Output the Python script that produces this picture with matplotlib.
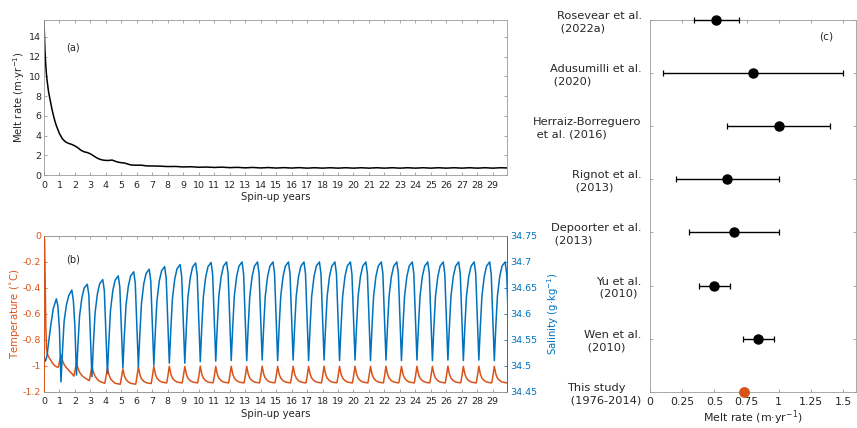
import numpy as np
import matplotlib.pyplot as plt

plt.rcParams['font.family'] = 'DejaVu Sans'
plt.rcParams['axes.unicode_minus'] = False

ORANGE = '#D95319'
BLUE = '#0072BD'
TXT = '#262626'
GRID = '#9a9a9a'

# (a) melt rate over the spin-up
melt_t = [0, 0.03, 0.06, 0.1, 0.15, 0.2, 0.3, 0.4, 0.5, 0.6, 0.7, 0.8, 1.0, 1.2, 1.4,
          1.6, 1.8, 2.0, 2.2, 2.4, 2.6, 2.8, 3.0, 3.2, 3.4, 3.6, 3.8, 4.0, 4.2, 4.4,
          4.6, 4.8, 5.0, 5.2, 5.4, 5.6, 5.8, 6.0, 6.3, 6.6,
          7.0, 7.5, 8.0, 8.5, 9.0, 9.5, 10.0, 10.5, 11.0, 11.5, 12.0, 12.5, 13.0, 13.5,
          14.0, 14.5, 15.0, 15.5, 16.0, 16.5, 17.0, 17.5, 18.0, 18.5, 19.0, 19.5, 20.0,
          20.5, 21.0, 21.5, 22.0, 22.5, 23.0, 23.5, 24.0, 24.5, 25.0, 25.5, 26.0, 26.5,
          27.0, 27.5, 28.0, 28.5, 29.0, 29.5, 29.92]
melt_v = [15.8, 14.2, 12.8, 11.5, 10.4, 9.6, 8.4, 7.6, 6.8, 6.1, 5.5, 5.0, 4.2, 3.65, 3.35,
          3.2, 3.1, 2.95, 2.75, 2.5, 2.35, 2.28, 2.15, 1.95, 1.75, 1.6, 1.52, 1.48, 1.48, 1.52,
          1.4, 1.3, 1.25, 1.22, 1.12, 1.03, 1.0, 1.0, 1.0, 0.93,
          0.92, 0.90, 0.86, 0.87, 0.82, 0.84, 0.79, 0.81, 0.77, 0.80, 0.75, 0.78, 0.73, 0.77,
          0.72, 0.76, 0.71, 0.75, 0.71, 0.75, 0.70, 0.74, 0.70, 0.74, 0.70, 0.74, 0.70,
          0.74, 0.70, 0.74, 0.70, 0.74, 0.70, 0.74, 0.70, 0.74, 0.70, 0.74, 0.70, 0.74,
          0.70, 0.74, 0.70, 0.74, 0.70, 0.74, 0.72]

# (b) temperature: first year, then one row per spin-up year (1..29)
temp_start_t = [0.0, 0.04, 0.08, 0.12, 0.17, 0.25, 0.4, 0.55, 0.7, 0.85, 0.93]
temp_start_v = [-0.02, -0.03, -0.35, -0.7, -0.87, -0.92, -0.95, -0.98, -1.0, -1.01, -1.01]
temp_offsets = [0.0, 0.1, 0.2, 0.3, 0.45, 0.6, 0.8, 0.93]
temp_rows = [
    [-0.97, -0.915, -0.96, -0.99, -1.015, -1.035, -1.06, -1.08],
    [-1.04, -0.98, -1.02, -1.05, -1.075, -1.09, -1.105, -1.115],
    [-1.07, -1.005, -1.05, -1.08, -1.105, -1.12, -1.13, -1.135],
    [-1.09, -1.02, -1.07, -1.10, -1.12, -1.135, -1.14, -1.143],
    [-1.095, -1.025, -1.08, -1.105, -1.125, -1.135, -1.14, -1.142],
    [-1.09, -1.007, -1.07, -1.10, -1.12, -1.13, -1.135, -1.137],
    [-1.085, -1.005, -1.065, -1.095, -1.115, -1.125, -1.13, -1.132],
    [-1.085, -1.004, -1.065, -1.095, -1.115, -1.125, -1.13, -1.132],
    [-1.085, -1.006, -1.065, -1.095, -1.115, -1.125, -1.13, -1.132],
    [-1.085, -1.003, -1.065, -1.095, -1.115, -1.125, -1.13, -1.131],
    [-1.085, -1.005, -1.065, -1.095, -1.115, -1.125, -1.13, -1.132],
    [-1.085, -1.004, -1.065, -1.095, -1.115, -1.125, -1.13, -1.132],
    [-1.085, -1.005, -1.065, -1.095, -1.115, -1.125, -1.13, -1.132],
    [-1.085, -1.003, -1.065, -1.095, -1.115, -1.125, -1.13, -1.131],
    [-1.085, -1.005, -1.065, -1.095, -1.115, -1.125, -1.13, -1.132],
    [-1.085, -1.004, -1.065, -1.095, -1.115, -1.125, -1.13, -1.132],
    [-1.085, -1.005, -1.065, -1.095, -1.115, -1.125, -1.13, -1.132],
    [-1.085, -1.003, -1.065, -1.095, -1.115, -1.125, -1.13, -1.131],
    [-1.085, -1.005, -1.065, -1.095, -1.115, -1.125, -1.13, -1.132],
    [-1.085, -1.004, -1.065, -1.095, -1.115, -1.125, -1.13, -1.132],
    [-1.085, -1.005, -1.065, -1.095, -1.115, -1.125, -1.13, -1.132],
    [-1.085, -1.003, -1.065, -1.095, -1.115, -1.125, -1.13, -1.131],
    [-1.085, -1.005, -1.065, -1.095, -1.115, -1.125, -1.13, -1.132],
    [-1.085, -1.004, -1.065, -1.095, -1.115, -1.125, -1.13, -1.132],
    [-1.085, -1.005, -1.065, -1.095, -1.115, -1.125, -1.13, -1.132],
    [-1.085, -1.003, -1.065, -1.095, -1.115, -1.125, -1.13, -1.131],
    [-1.085, -1.005, -1.065, -1.095, -1.115, -1.125, -1.13, -1.132],
    [-1.085, -1.004, -1.065, -1.095, -1.115, -1.125, -1.13, -1.132],
    [-1.085, -1.005, -1.065, -1.095, -1.115, -1.125, -1.13, -1.132],
]

# (b) salinity: one row per spin-up year (0..29)
sal_start_t = [0.0, 0.05]
sal_start_v = [34.517, 34.512]
sal_offsets = [0.1, 0.2, 0.3, 0.45, 0.6, 0.8, 0.9, 1.0]
sal_rows = [
    [34.509, 34.520, 34.545, 34.580, 34.610, 34.629, 34.615, 34.570],
    [34.469, 34.530, 34.585, 34.617, 34.635, 34.646, 34.625, 34.575],
    [34.482, 34.543, 34.596, 34.631, 34.650, 34.657, 34.636, 34.560],
    [34.479, 34.545, 34.601, 34.638, 34.658, 34.666, 34.645, 34.565],
    [34.485, 34.551, 34.607, 34.645, 34.665, 34.673, 34.652, 34.573],
    [34.496, 34.561, 34.616, 34.653, 34.673, 34.681, 34.659, 34.580],
    [34.498, 34.564, 34.620, 34.658, 34.678, 34.686, 34.664, 34.583],
    [34.501, 34.568, 34.625, 34.663, 34.683, 34.691, 34.668, 34.585],
    [34.505, 34.572, 34.629, 34.667, 34.687, 34.695, 34.672, 34.589],
    [34.505, 34.573, 34.631, 34.669, 34.690, 34.698, 34.675, 34.590],
    [34.508, 34.576, 34.633, 34.671, 34.691, 34.699, 34.676, 34.591],
    [34.509, 34.577, 34.634, 34.672, 34.692, 34.700, 34.677, 34.592],
    [34.510, 34.577, 34.634, 34.672, 34.692, 34.700, 34.677, 34.592],
    [34.510, 34.577, 34.634, 34.672, 34.692, 34.700, 34.677, 34.592],
    [34.511, 34.577, 34.634, 34.672, 34.692, 34.700, 34.677, 34.592],
    [34.510, 34.577, 34.634, 34.672, 34.692, 34.700, 34.677, 34.592],
    [34.511, 34.577, 34.634, 34.672, 34.692, 34.700, 34.677, 34.592],
    [34.510, 34.577, 34.634, 34.672, 34.692, 34.700, 34.677, 34.592],
    [34.511, 34.577, 34.634, 34.672, 34.692, 34.700, 34.677, 34.592],
    [34.510, 34.577, 34.634, 34.672, 34.692, 34.700, 34.677, 34.592],
    [34.511, 34.577, 34.634, 34.672, 34.692, 34.700, 34.677, 34.592],
    [34.510, 34.577, 34.634, 34.672, 34.692, 34.700, 34.677, 34.592],
    [34.511, 34.577, 34.634, 34.672, 34.692, 34.700, 34.677, 34.592],
    [34.510, 34.577, 34.634, 34.672, 34.692, 34.700, 34.677, 34.592],
    [34.511, 34.577, 34.634, 34.672, 34.692, 34.700, 34.677, 34.592],
    [34.510, 34.577, 34.634, 34.672, 34.692, 34.700, 34.677, 34.592],
    [34.511, 34.577, 34.634, 34.672, 34.692, 34.700, 34.677, 34.592],
    [34.510, 34.577, 34.634, 34.672, 34.692, 34.700, 34.677, 34.592],
    [34.511, 34.577, 34.634, 34.672, 34.692, 34.700, 34.677, 34.592],
    [34.510, 34.577, 34.634, 34.672, 34.692, 34.700, 34.677, 34.592],
]

# (c) published estimates of basal melt rate
studies = ['Rosevear et al.\n (2022a)', 'Adusumilli et al.\n (2020)',
           'Herraiz-Borreguero\n et al. (2016)', 'Rignot et al.\n (2013)',
           'Depoorter et al.\n (2013)', 'Yu et al.\n (2010)', 'Wen et al.\n (2010)']
study_mean = [0.51, 0.80, 1.00, 0.60, 0.65, 0.50, 0.84]
study_low = [0.34, 0.10, 0.60, 0.20, 0.30, 0.38, 0.72]
study_high = [0.69, 1.50, 1.40, 1.00, 1.00, 0.62, 0.96]
this_label = 'This study\n (1976-2014)'
this_value = 0.73

temp_t = temp_start_t + [k + 1 + o for k in range(len(temp_rows)) for o in temp_offsets]
temp_v = temp_start_v + [v for row in temp_rows for v in row]
sal_t = sal_start_t + [k + o for k in range(len(sal_rows)) for o in sal_offsets]
sal_v = sal_start_v + [v for row in sal_rows for v in row]


def style(ax, size=6.8):
    for s in ax.spines.values():
        s.set_color(GRID)
        s.set_linewidth(0.6)
    ax.tick_params(direction='in', length=2.5, width=0.6, color=GRID, labelsize=size,
                   labelcolor=TXT, top=True, right=True)
    ax.tick_params(axis='x', pad=4)
    ax.tick_params(axis='y', pad=2)


fig = plt.figure(figsize=(8.57, 4.28), dpi=100)

# panel a
ax_a = fig.add_axes([0.0513, 0.591, 0.5403, 0.3623])
style(ax_a)
ax_a.plot(melt_t, melt_v, color='black', lw=1.1)
ax_a.set_xlim(0, 29.92)
ax_a.set_ylim(0, 15.7)
ax_a.set_xticks(range(30))
ax_a.set_yticks(range(0, 15, 2))
ax_a.set_xlabel('Spin-up years', fontsize=7.3, color=TXT, labelpad=2)
ax_a.set_ylabel('Melt rate (m\u00b7yr$^{-1}$)', fontsize=7.3, color=TXT)
ax_a.yaxis.set_label_coords(-0.036, 0.5)
ax_a.text(1.45, 12.95, '(a)', fontsize=7, color=TXT, va='center')

# panel b
ax_b = fig.add_axes([0.0513, 0.0848, 0.5403, 0.3638])
style(ax_b)
ax_b.tick_params(right=False)
ax_b.plot(temp_t, temp_v, color=ORANGE, lw=1.1)
ax_b.set_xlim(0, 29.92)
ax_b.set_ylim(-1.2, 0)
ax_b.set_xticks(range(30))
ax_b.set_yticks([-1.2, -1, -0.8, -0.6, -0.4, -0.2, 0])
ax_b.set_yticklabels(['-1.2', '-1', '-0.8', '-0.6', '-0.4', '-0.2', '0'])
ax_b.tick_params(axis='y', labelcolor=ORANGE, color=ORANGE)
ax_b.spines['left'].set_color(ORANGE)
ax_b.set_xlabel('Spin-up years', fontsize=7.3, color=TXT, labelpad=2)
ax_b.set_ylabel('Temperature ($^{\\circ}$C)', fontsize=7.3, color=ORANGE)
ax_b.yaxis.set_label_coords(-0.048, 0.5)
ax_b.text(1.45, -0.18, '(b)', fontsize=7, color=TXT, va='center')

ax_s = ax_b.twinx()
style(ax_s)
ax_s.tick_params(top=False, left=False, bottom=False, labelbottom=False)
ax_s.tick_params(axis='y', labelcolor=BLUE, color=BLUE)
ax_s.spines['right'].set_color(BLUE)
ax_s.spines['left'].set_color(ORANGE)
ax_s.plot(sal_t, sal_v, color=BLUE, lw=1.1)
ax_s.set_xlim(0, 29.92)
ax_s.set_ylim(34.45, 34.75)
sal_ticks = [34.45, 34.5, 34.55, 34.6, 34.65, 34.7, 34.75]
ax_s.set_yticks(sal_ticks)
ax_s.set_yticklabels(['%g' % v for v in sal_ticks])
ax_s.set_ylabel('Salinity (g\u00b7kg$^{-1}$)', fontsize=7.3, color=BLUE)
ax_s.yaxis.set_label_coords(1.083, 0.5)

# panel c
ax_c = fig.add_axes([0.7585, 0.0848, 0.2403, 0.8685])
style(ax_c, size=7.9)
ax_c.tick_params(axis='x', pad=4)
ax_c.tick_params(axis='y', pad=6)
n = len(studies) + 1
ypos = list(range(n, 1, -1))
mean = np.array(study_mean)
err = [mean - np.array(study_low), np.array(study_high) - mean]
ax_c.errorbar(study_mean, ypos, xerr=err, fmt='o', color='black', ms=6.5, lw=1.0,
              capsize=2.2, capthick=0.9, clip_on=False, zorder=3)
ax_c.plot([this_value], [1], 'o', color=ORANGE, ms=6.8, clip_on=False, zorder=3)
ax_c.set_xlim(0, 1.6)
ax_c.set_ylim(1, n)
ax_c.set_xticks([0, 0.25, 0.5, 0.75, 1, 1.25, 1.5])
ax_c.set_xticklabels(['0', '0.25', '0.5', '0.75', '1', '1.25', '1.5'])
ax_c.set_yticks(ypos + [1])
ax_c.set_yticklabels(studies + [this_label], multialignment='left', fontsize=8.2,
                     linespacing=1.3)
ax_c.set_xlabel('Melt rate (m\u00b7yr$^{-1}$)', fontsize=7.9, color=TXT, labelpad=1)
ax_c.text(1.31, 7.68, '(c)', fontsize=7.6, color=TXT, va='center')

fig.savefig('out.png', dpi=100)
